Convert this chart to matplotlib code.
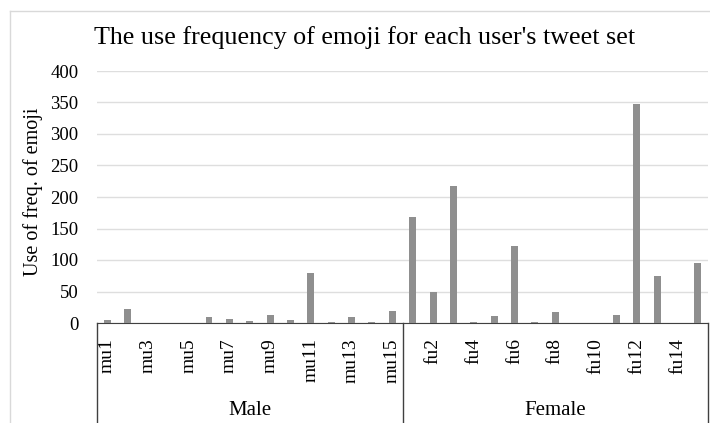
import matplotlib.pyplot as plt
import matplotlib.transforms as mtransforms
from matplotlib.lines import Line2D

users = ['mu%d' % i for i in range(1, 16)] + ['fu%d' % i for i in range(1, 16)]
male_freq = [4, 23, 0, 0, 0, 9, 7, 3, 12, 4, 80, 1, 9, 1, 19]
female_freq = [169, 50, 217, 1, 11, 123, 1, 18, 0, 0, 13, 347, 75, 0, 96]
groups = ['Male', 'Female']

freq = male_freq + female_freq
W, H = 710, 423

plt.rcParams['font.family'] = ['Liberation Serif', 'DejaVu Serif']
fig = plt.figure(figsize=(W / 100, H / 100), dpi=100)
ax = fig.add_axes([97 / W, (H - 323) / H, (708 - 97) / W, (323 - 71) / H])

x = list(range(len(users)))
ax.bar(x, freq, width=0.34, color='#8f8f8f', zorder=3)

ax.set_xlim(-0.5, len(users) - 0.5)
ax.set_ylim(0, 400)
ax.set_yticks(range(0, 401, 50))
ax.yaxis.grid(True, color='#dedede', lw=1, zorder=0)
ax.tick_params(axis='y', length=0, pad=13.5, labelsize=13.5)

# only every other category label is shown
ax.set_xticks(x[::2])
ax.set_xticklabels(users[::2], rotation=90, fontsize=14, va='top')
ax.tick_params(axis='x', length=0, pad=11)

for s in ['top', 'right', 'left']:
    ax.spines[s].set_visible(False)
ax.spines['bottom'].set_color('#404040')

# multi-level category box
trans = mtransforms.blended_transform_factory(ax.transData, ax.transAxes)
for xv in [-0.5, 14.5, 29.5]:
    ax.add_line(Line2D([xv, xv], [0, -0.45], transform=trans, color='#404040',
                       lw=1, clip_on=False))
ax.text(7, -(410 - 323) / 252, groups[0], transform=trans, ha='center', va='center', fontsize=15)
ax.text(22, -(410 - 323) / 252, groups[1], transform=trans, ha='center', va='center', fontsize=15)

ax.set_ylabel('Use of freq. of emoji', fontsize=14.5)
ax.yaxis.set_label_coords(-0.088, 0.52)

fig.text(365 / W, 1 - 38 / H, "The use frequency of emoji for each user's tweet set",
         ha='center', va='center', fontsize=18.7)

# chart area border
fig.add_artist(Line2D([9.5 / W, 9.5 / W], [0, 1 - 11.5 / H], transform=fig.transFigure,
                      color='#d9d9d9', lw=1))
fig.add_artist(Line2D([9.5 / W, 1], [1 - 11.5 / H, 1 - 11.5 / H], transform=fig.transFigure,
                      color='#d9d9d9', lw=1))

fig.savefig('out.png', dpi=100)
